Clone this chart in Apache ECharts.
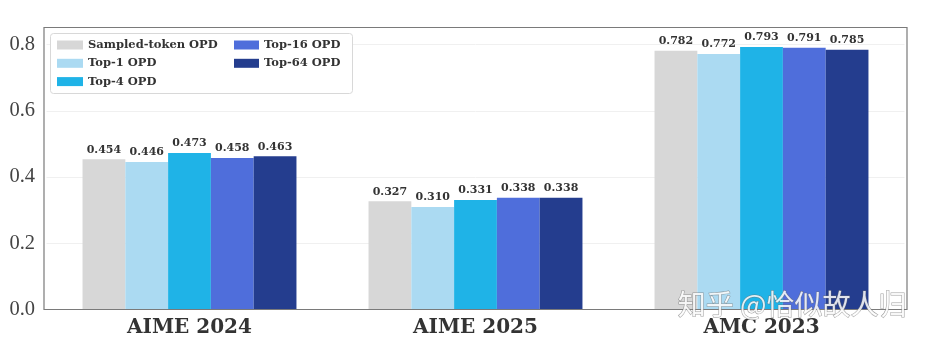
<!DOCTYPE html>
<html>
<head>
<meta charset="utf-8">
<script src="https://cdn.jsdelivr.net/npm/echarts@6/dist/echarts.min.js"></script>
<style>
  html, body { margin: 0; padding: 0; background: #fff; }
  #chart { width: 933px; height: 344px; }
</style>
</head>
<body>
<div id="chart"></div>
<script>
// Benchmarks on the x axis
const categories = ['AIME 2024', 'AIME 2025', 'AMC 2023'];

// Accuracy per distillation variant
const seriesNames = ['Sampled-token OPD', 'Top-1 OPD', 'Top-4 OPD', 'Top-16 OPD', 'Top-64 OPD'];
const sampledToken = [0.454, 0.327, 0.782];
const top1 = [0.446, 0.310, 0.772];
const top4 = [0.473, 0.331, 0.793];
const top16 = [0.458, 0.338, 0.791];
const top64 = [0.463, 0.338, 0.785];
const seriesValues = [sampledToken, top1, top4, top16, top64];

const yTicks = [0.0, 0.2, 0.4, 0.6, 0.8];

const colors = ['#d7d7d7', '#abdaf2', '#1fb3e7', '#4f6edb', '#243d8e'];
const serif = '"DejaVu Serif", "Liberation Serif", serif';
const thinSerif = '"Liberation Serif", "DejaVu Serif", serif';

const legendText = { fontFamily: serif, fontWeight: 'bold', fontSize: 11.5, color: '#333', lineHeight: 14 };
const legendCommon = {
  orient: 'vertical', top: 38, padding: 0, itemGap: 4.3,
  itemHeight: 9, icon: 'rect', textStyle: legendText
};

const chart = echarts.init(document.getElementById('chart'), null, { renderer: 'canvas' });

chart.setOption({
  animation: false,
  color: colors,
  grid: { left: 46.5, right: 28.5, top: 27.5, bottom: 34.5 },
  legend: [
    Object.assign({ left: 57, itemWidth: 26, data: seriesNames.slice(0, 3) }, legendCommon),
    Object.assign({ left: 234, itemWidth: 25, data: seriesNames.slice(3) }, legendCommon)
  ],
  xAxis: {
    type: 'category',
    data: categories,
    axisLine: { show: false },
    axisTick: { show: false },
    axisLabel: { fontFamily: serif, fontWeight: 'bold', fontSize: 20, color: '#333', margin: 8 }
  },
  yAxis: {
    type: 'value',
    min: 0, max: 0.852, interval: 0.2,
    axisLine: { show: false },
    axisTick: { show: false },
    splitLine: { show: true, lineStyle: { color: '#f0f0f0', width: 1 } },
    axisLabel: {
      fontFamily: thinSerif, fontSize: 20.5, color: '#444', margin: 11.5,
      showMaxLabel: false,
      formatter: v => yTicks.some(t => Math.abs(t - v) < 1e-9) ? v.toFixed(1) : ''
    }
  },
  series: seriesNames.map((name, i) => ({
    name,
    type: 'bar',
    data: seriesValues[i],
    barGap: '0%',
    barCategoryGap: '25.2%',
    label: {
      show: true, position: 'top', distance: 4,
      formatter: p => p.value.toFixed(3),
      fontFamily: serif, fontWeight: 'bold', fontSize: 11, color: '#333'
    }
  })),
  graphic: [
    {
      // axes frame
      type: 'rect', z: 50, silent: true,
      shape: { x: 44, y: 27.5, width: 863, height: 282 },
      style: { fill: 'none', stroke: '#7a7a7a', lineWidth: 1.2 }
    },
    {
      // legend box
      type: 'rect', z: 1, silent: true,
      shape: { x: 50.5, y: 33.5, width: 302, height: 60, r: 3 },
      style: { fill: '#fff', stroke: '#d8d8d8', lineWidth: 1 }
    },
    {
      type: 'text', z: 100, silent: true,
      right: 26, top: 290,
      style: {
        text: '知乎 @恰似故人归',
        font: '28px "Noto Sans CJK SC", sans-serif',
        fill: 'rgba(255,255,255,0.85)',
        stroke: 'rgba(110,110,110,0.65)',
        lineWidth: 1
      }
    }
  ]
});
</script>
</body>
</html>
